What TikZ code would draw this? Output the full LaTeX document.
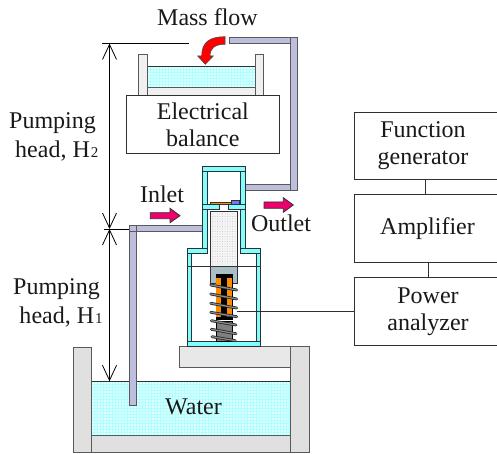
\documentclass[tikz,border=0pt]{standalone}
\usepackage{fontspec}
\setmainfont{Liberation Serif}
\usetikzlibrary{arrows.meta,patterns.meta}
\definecolor{wallc}{HTML}{7FFFFF}
\definecolor{pipec}{HTML}{BDBDDD}
\definecolor{edgec}{HTML}{303030}
\definecolor{hot}{HTML}{F0006E}
\definecolor{blockc}{HTML}{A9BFC5}
\definecolor{waterc}{HTML}{DCFFFF}
\definecolor{gridc}{HTML}{B0FFFF}
\tikzset{
  lbl/.style={font=\fontsize{24}{27.5}\selectfont,align=center,inner sep=0pt,text=black!90},
  boxn/.style={lbl,draw=edgec,line width=1pt,fill=white,minimum height=#1,anchor=west},
  wall/.style={draw=edgec,line width=1pt,fill=wallc},
  pipe/.style={draw=edgec!80,line width=1pt,fill=pipec},
  tankw/.style={draw=edgec!80,line width=1pt,fill=black!12},
  beakw/.style={draw=edgec!80,line width=1pt,fill=black!6},
  flowarrow/.style={draw=edgec,line width=.8pt,fill=hot},
  dim/.style={line width=.8pt,black,{Straight Barb[length=15pt,width=14pt,line width=.8pt]}-{Straight Barb[length=15pt,width=14pt,line width=.8pt]}},
  gridl/.style={line width=1pt,gridc},
  waterline/.style={draw=edgec,line width=1pt},
  coilb/.style={line width=2.8pt,black!85,line cap=round},
  coilg/.style={line width=1.2pt,black!45,line cap=round},
  wirel/.style={line width=.9pt,edgec}
}
\newcommand{\coilturn}[4]{\draw[coilb] (#1,#2) -- (#3,#4); \draw[coilg] (#1,#2) -- (#3,#4);}
% water texture: x0, y0, x1, y1 (whole numbers)
\newcommand{\waterrect}[4]{%
  \fill[waterc] (#1,#2) rectangle (#3,#4);
  \pgfmathtruncatemacro{\wxa}{#1}\pgfmathtruncatemacro{\wxb}{#1+3}\pgfmathtruncatemacro{\wxc}{#3}%
  \pgfmathtruncatemacro{\wya}{#2}\pgfmathtruncatemacro{\wyb}{#2+3}\pgfmathtruncatemacro{\wyc}{#4}%
  \foreach \wv in {\wxa,\wxb,...,\wxc} \draw[gridl] (\wv+.5,#2) -- (\wv+.5,#4);
  \foreach \wv in {\wya,\wyb,...,\wyc} \draw[gridl] (#1,\wv+.5) -- (#3,\wv+.5);
}
\begin{document}
\begin{tikzpicture}[x=1pt,y=-1pt]
\useasboundingbox (0,0) rectangle (497,454);
\clip (0,0) rectangle (497,454);
% tank
\begin{scope}
\clip (91.7,381.3) rectangle (290.7,435.7);
\waterrect{91}{381}{291}{436}
\end{scope}
\draw[waterline] (91.7,381.3) -- (290.7,381.3);
\draw[tankw] (91.7,435.7) rectangle (290.7,452);
\draw[tankw] (73.3,347.3) rectangle (91.7,452);
\draw[tankw] (290.7,346) rectangle (309.3,452);
\draw[beakw,fill=black!9] (179.3,346.7) rectangle (290.7,367.3);
% inlet pipe
\draw[pipe] (129,229) rectangle (136.3,405.3);
\draw[pipe] (129,225) rectangle (136.3,231.7);
\draw[pipe] (136.3,225) rectangle (203,231.7);
% outlet pipe
\draw[pipe] (240.7,185) rectangle (297.3,191);
\draw[pipe] (290.7,37.3) rectangle (297.3,191);
\draw[pipe] (229.3,37.3) rectangle (290.7,44);
% beaker
\begin{scope}
\clip (147.3,66.7) rectangle (255,87.3);
\waterrect{147}{66}{255}{88}
\end{scope}
\draw[waterline] (147.3,66.7) -- (255,66.7) (147.3,87.3) -- (255,87.3);
\draw[beakw] (147.3,87.3) rectangle (255,96);
\draw[beakw] (138.7,54.3) rectangle (147.3,96);
\draw[beakw] (255,54.3) rectangle (263.3,96);
\node[boxn=58pt,minimum width=152.7pt] (balance) at (126,125) {Electrical\\balance};
% pump housing
\draw[wall] (202.5,167) rectangle (207.5,248.7);
\draw[wall] (240.7,167) rectangle (245.7,248.7);
\draw[wall] (202.5,167) rectangle (245.7,171.5);
\draw[wall] (202.5,204.5) rectangle (219.5,209.5);
\draw[wall] (228.7,204.5) rectangle (245.7,209.5);
\draw[wall] (187.3,253.3) rectangle (191.7,341.7);
\draw[wall] (256,253.3) rectangle (260.7,341.7);
\draw[wall] (187.3,248.7) rectangle (207.5,253.3);
\draw[wall] (240.7,248.7) rectangle (260.7,253.3);
\draw[wall] (187.3,341.7) rectangle (260.7,346.7);
\draw[line width=.9pt,edgec] (187.3,266) -- (260.7,266);
% valve
\draw[line width=.6pt,edgec,fill=orange!85!yellow] (210.7,202) rectangle (235,204.3);
\draw[line width=.8pt,edgec,fill=blue!55!white] (231.7,200.3) rectangle (239,204.3);
% rod
\draw[line width=1pt,edgec,fill=black!4] (210.7,211.7) rectangle (237.3,266);
\fill[pattern={Dots[distance=2.5pt,radius=.3pt]},pattern color=black!30] (211.5,212.5) rectangle (236.5,265.5);
% actuator
\draw[line width=1pt,edgec,fill=blockc] (210.7,266) rectangle (237.3,283);
\fill[black] (215.5,274) rectangle (232.7,320);
\fill[orange!90!yellow] (215.7,277.7) rectangle (221,316.7);
\fill[orange!90!yellow] (226.7,277.7) rectangle (232.3,316.7);
\draw[line width=.8pt,black,fill=black!50] (216,321.7) rectangle (232.7,341.7);
\coilturn{210.7}{285}{236.7}{290}
\coilturn{210.7}{294}{236.7}{299}
\coilturn{210.7}{303.3}{236.7}{308}
\coilturn{210.7}{312.3}{236.7}{316.7}
\coilturn{211.3}{320.7}{236}{325}
\coilturn{211.3}{329.3}{236}{333.7}
\coilturn{212}{336.7}{235.3}{340.7}
% red flow arrow
\draw[line width=.6pt,black!70,fill=red] (225,36.7) .. controls (210,36.7) and (201.7,42) .. (201.7,56) -- (197.7,56) -- (205.3,64.3) -- (213.3,56) -- (210,56) .. controls (210,48) and (215,44.3) .. (225,44.3) -- cycle;
% pink arrows
\draw[flowarrow] (150.3,212.7) -- (170,212.7) -- (170,208.3) -- (180,215.7) -- (170,222.7) -- (170,218.7) -- (150.3,218.7) -- cycle;
\draw[flowarrow] (264,202) -- (283.3,202) -- (283.3,197.7) -- (293.3,205) -- (283.3,212.3) -- (283.3,208.3) -- (264,208.3) -- cycle;
% dimensions
\coordinate (dimtop) at (109.5,43.5);
\coordinate (dimmid) at (109.5,229);
\coordinate (dimbot) at (109.5,381.3);
\coordinate (dimtopend) at (189,43.5);
\coordinate (dimtopstart) at (102,43.5);
\coordinate (dimmidstart) at (104,229);
\coordinate (inletcorner) at (129,229);
\draw[line width=.8pt,black] (dimtopstart) -- (dimtopend);
\draw[line width=.8pt,black] (dimmidstart) -- (inletcorner);
\draw[dim] (dimtop) -- (dimmid);
\draw[dim] (dimmid) -- (dimbot);
% control boxes
\node[boxn=67pt,minimum width=147pt] (fg) at (353.5,145.8) {\hspace*{-9pt}Function\\\hspace*{-9pt}generator};
\node[boxn=67.7pt,minimum width=147pt] (amp) at (353.5,228.2) {Amplifier};
\node[boxn=67.3pt,minimum width=147pt] (pa) at (354,311.6) {Power\\analyzer};
\coordinate (fgout) at (425.3,179.3);
\coordinate (ampin) at (425.3,194.3);
\coordinate (ampout) at (428,262);
\coordinate (pain) at (428,278);
\coordinate (coilpt) at (236.7,311.6);
\draw[wirel] (fgout) -- (ampin);
\draw[wirel] (ampout) -- (pain);
\draw[wirel] (pa.west) -- (coilpt);
% labels
\node[lbl,anchor=base] (massflow) at (207.5,26) {Mass flow};
\node[lbl,anchor=base] (inlet) at (162,203) {Inlet};
\node[lbl,anchor=base] (outlet) at (281,231.7) {Outlet};
\node[lbl,anchor=base] (water) at (193.5,414) {Water};
\node[lbl,anchor=base west] (p2) at (9,129) {Pumping};
\node[lbl,anchor=base west] (h2) at (15,158) {head, H\hspace{1pt}{\fontsize{15}{15}\selectfont 2}};
\node[lbl,anchor=base west] (p1) at (13,294.3) {Pumping};
\node[lbl,anchor=base west] (h1) at (19.3,323.3) {head, H\hspace{1pt}{\fontsize{15}{15}\selectfont 1}};
\end{tikzpicture}
\end{document}
